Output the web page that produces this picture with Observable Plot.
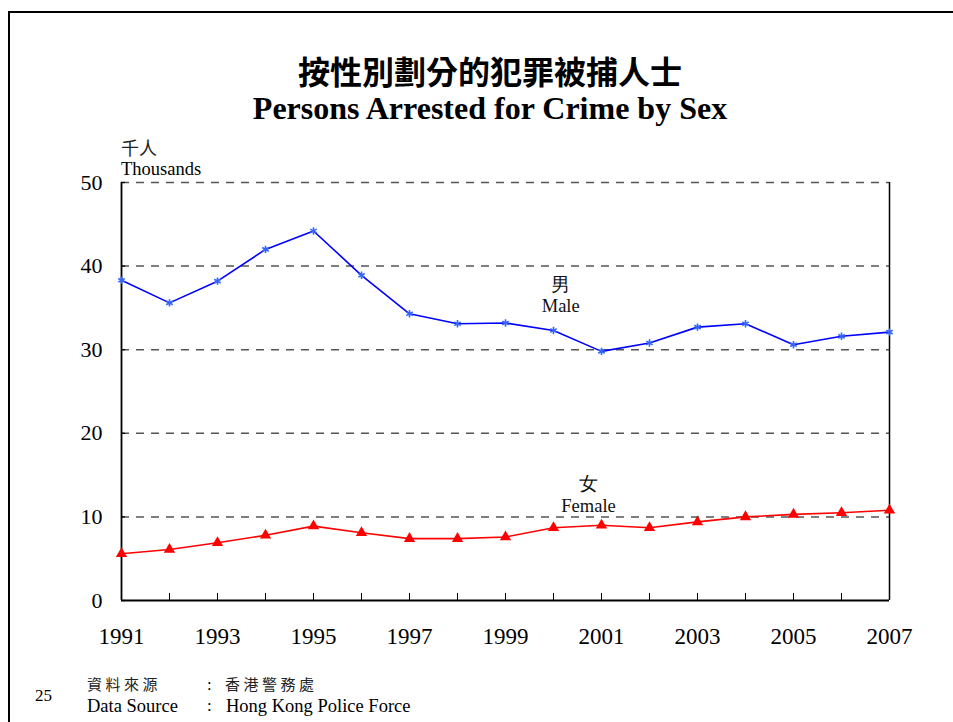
<!DOCTYPE html>
<html>
<head>
<meta charset="utf-8">
<script src="https://cdn.jsdelivr.net/npm/d3@7"></script>
<script src="https://cdn.jsdelivr.net/npm/@observablehq/plot@0.6"></script>
<style>
  html, body { margin: 0; padding: 0; background: #fff; }
  #page { position: relative; width: 953px; height: 722px; overflow: hidden; font-family: "Liberation Serif", "Times New Roman", serif; }
  #frame { position: absolute; left: 8px; top: 11px; width: 1000px; height: 800px; border-left: 2.5px solid #000; border-top: 2.5px solid #000; }
  .abs { position: absolute; white-space: nowrap; color: #000; line-height: 1; }
  #chart { position: absolute; left: 0; top: 0; }
  .cjk { font-family: "Noto Sans CJK TC", "Noto Sans CJK SC", sans-serif; }
</style>
</head>
<body>
<div id="page">
  <div id="frame"></div>
  <div id="chart"></div>
  <div class="abs cjk" id="t1" style="left:0;width:980px;text-align:center;top:54px;font-size:32px;font-weight:700;">按性別劃分的犯罪被捕人士</div>
  <div class="abs" id="t2" style="left:0;width:980px;text-align:center;top:92px;font-size:32px;font-weight:700;">Persons Arrested for Crime by Sex</div>
  <div class="abs cjk" style="left:121px;top:138px;font-size:18px;color:#222;">千人</div>
  <div class="abs" style="left:121px;top:160px;font-size:18.5px;">Thousands</div>
  <div class="abs" style="left:35px;top:687px;font-size:17px;">25</div>
  <div class="abs cjk" style="left:87px;top:676px;font-size:15px;letter-spacing:3.5px;color:#222;">資料來源</div>
  <div class="abs" style="left:87px;top:697px;font-size:18.5px;">Data Source</div>
  <div class="abs" style="left:207px;top:676px;font-size:17px;">:</div>
  <div class="abs" style="left:207px;top:697px;font-size:17px;">:</div>
  <div class="abs cjk" style="left:225px;top:676px;font-size:15px;letter-spacing:3.5px;color:#222;">香港警務處</div>
  <div class="abs" style="left:226px;top:697px;font-size:18.5px;">Hong Kong Police Force</div>
</div>
<script>
const years = [1991,1992,1993,1994,1995,1996,1997,1998,1999,2000,2001,2002,2003,2004,2005,2006,2007];
const male = [38.3,35.6,38.2,42.0,44.2,38.9,34.3,33.1,33.2,32.3,29.8,30.8,32.7,33.1,30.6,31.6,32.1];
const female = [5.6,6.1,6.9,7.8,8.9,8.1,7.4,7.4,7.6,8.7,9.0,8.7,9.4,10.0,10.3,10.5,10.8];
const yTicks = [0,10,20,30,40,50];
const xTickLabels = [1991,1993,1995,1997,1999,2001,2003,2005,2007];
const seriesLabels = [
  {year: 2000.15, value: 36.6, text: "男\nMale"},
  {year: 2000.73, value: 12.7, text: "女\nFemale"}
];

const maleData = years.map((y, i) => ({year: y, value: male[i]}));
const femaleData = years.map((y, i) => ({year: y, value: female[i]}));

const chart = Plot.plot({
  width: 953,
  height: 722,
  marginLeft: 121,
  marginRight: 64,
  marginTop: 182,
  marginBottom: 122,
  style: {fontFamily: "Liberation Serif, Times New Roman, serif", background: "transparent", color: "#000"},
  x: {domain: [1991, 2007]},
  y: {domain: [0, 50]},
  marks: [
    Plot.ruleY(yTicks.filter(d => d > 0), {stroke: "#555", strokeWidth: 1.5, strokeDasharray: "8,7"}),
    Plot.ruleX([2007], {stroke: "#000", strokeWidth: 1.5}),
    Plot.axisY(yTicks, {tickSize: -4, text: null, label: null, stroke: "#000", strokeWidth: 1.2}),
    Plot.axisY(yTicks, {tickSize: 0, tickPadding: 19, fontSize: 22, label: null}),
    Plot.axisX(years, {tickSize: -7, text: null, label: null, stroke: "#000", strokeWidth: 1}),
    Plot.axisX(xTickLabels, {tickSize: 0, tickPadding: 27, fontSize: 23, tickFormat: d => String(d), label: null}),
    Plot.ruleX([1991], {stroke: "#000", strokeWidth: 1.8}),
    Plot.ruleY([0], {stroke: "#000", strokeWidth: 1.8}),
    Plot.line(maleData, {x: "year", y: "value", stroke: "#0000ff", strokeWidth: 1.6}),
    Plot.dot(maleData, {x: "year", y: "value", symbol: "asterisk", stroke: "#3366ff", strokeWidth: 1.6, r: 3.5}),
    Plot.line(femaleData, {x: "year", y: "value", stroke: "#ff0000", strokeWidth: 1.6}),
    Plot.dot(femaleData, {x: "year", y: "value", symbol: "triangle", fill: "#ff0000", stroke: "none", r: 4.2}),
    Plot.text(seriesLabels, {x: "year", y: "value", text: "text", fontSize: 18.5, lineHeight: 1.15, fill: "#111"})
  ]
});
document.getElementById("chart").appendChild(chart);
</script>
</body>
</html>
